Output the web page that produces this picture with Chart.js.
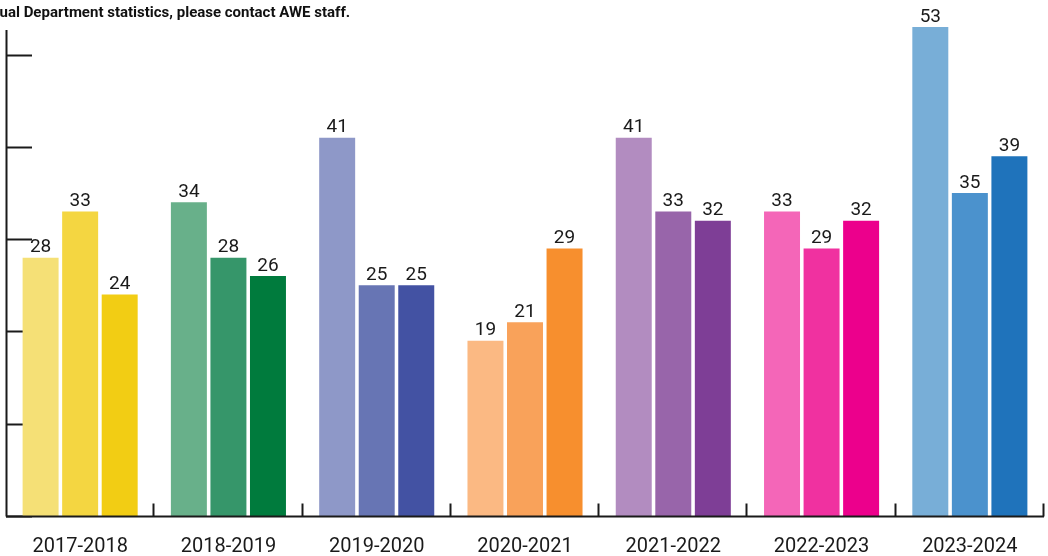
<!DOCTYPE html>
<html>
<head>
<meta charset="utf-8">
<script src="https://cdn.jsdelivr.net/npm/chart.js@4/dist/chart.umd.min.js"></script>
<style>
    html, body { margin: 0; padding: 0; background: #fff; }
    #wrap { width: 1048px; height: 556px; position: relative; }
</style>
</head>
<body>
<div id="wrap"><canvas id="grafico"></canvas></div>
<script>
// dados
const anos = ['2017-2018', '2018-2019', '2019-2020', '2020-2021', '2021-2022', '2022-2023', '2023-2024'];
const serie1 = [28, 34, 41, 19, 41, 33, 53];
const serie2 = [33, 28, 25, 21, 33, 29, 35];
const serie3 = [24, 26, 25, 29, 32, 32, 39];
const marcasY = [0, 10, 20, 30, 40, 50];

// cores por grupo (claro, medio, escuro)
const cores1 = ['#F5E076', '#68B08A', '#8E98C8', '#FBB983', '#B28CC0', '#F466B8', '#78AED7'];
const cores2 = ['#F4D641', '#36966A', '#6775B4', '#F9A25A', '#9865AA', '#F031A0', '#4B92CD'];
const cores3 = ['#F2CD14', '#007B3D', '#4352A3', '#F78F2E', '#7E3E96', '#EC008C', '#1F73BB'];

// o titulo aparece cortado na esquerda
const tituloCortado = 'For individ';
const titulo = 'ual Department statistics, please contact AWE staff.';
const corTexto = '#1a1a1a';

// ticks do eixo y por baixo das barras
const ticksY = {
    id: 'ticksY',
    beforeDatasetsDraw(chart) {
        const ctx = chart.ctx;
        const area = chart.chartArea;
        const y = chart.scales.y;
        ctx.save();
        ctx.strokeStyle = '#1a1a1a';
        ctx.lineWidth = 2;
        marcasY.forEach(function (v) {
            const py = Math.round(y.getPixelForValue(v)) + 0.5;
            ctx.beginPath();
            ctx.moveTo(area.left, py);
            ctx.lineTo(area.left + 26, py);
            ctx.stroke();
        });
        ctx.restore();
    }
};

// eixos, rotulos e titulo por cima
const eixos = {
    id: 'eixos',
    afterDatasetsDraw(chart) {
        const ctx = chart.ctx;
        const area = chart.chartArea;
        const x = chart.scales.x;
        const y = chart.scales.y;
        const base = Math.round(y.getPixelForValue(0)) + 0.5;
        const passo = (area.right - area.left) / anos.length;

        ctx.save();
        ctx.strokeStyle = '#1a1a1a';
        ctx.lineWidth = 2;

        // eixo y
        ctx.beginPath();
        ctx.moveTo(area.left + 0.5, area.top + 3);
        ctx.lineTo(area.left + 0.5, base);
        ctx.stroke();

        // eixo x
        ctx.beginPath();
        ctx.moveTo(area.left, base);
        ctx.lineTo(area.right, base);
        ctx.stroke();

        // separadores dos grupos
        for (let i = 1; i <= anos.length; i++) {
            const px = Math.round(area.left + passo * i) - 0.5;
            ctx.beginPath();
            ctx.moveTo(px, base - 13);
            ctx.lineTo(px, base);
            ctx.stroke();
        }

        // rotulos do eixo x
        ctx.fillStyle = corTexto;
        ctx.font = '20px Roboto';
        ctx.textAlign = 'center';
        ctx.textBaseline = 'alphabetic';
        anos.forEach(function (a, i) {
            ctx.fillText(a, x.getPixelForValue(i), 552);
        });

        // valores sobre as barras
        ctx.font = '19px Roboto';
        chart.data.datasets.forEach(function (ds, d) {
            chart.getDatasetMeta(d).data.forEach(function (barra, i) {
                ctx.fillText(String(ds.data[i]), barra.x, barra.y - 5.5);
            });
        });

        // titulo
        ctx.font = 'bold 15px Roboto';
        ctx.textAlign = 'left';
        ctx.fillStyle = '#111';
        const recuo = ctx.measureText(tituloCortado).width;
        ctx.fillText(tituloCortado + titulo, -recuo - 0.5, 17);

        ctx.restore();
    }
};

const ctx = document.getElementById('grafico');

new Chart(ctx, {
    type: 'bar',
    data: {
        labels: anos,
        datasets: [
            { data: serie1, backgroundColor: cores1, borderWidth: 0 },
            { data: serie2, backgroundColor: cores2, borderWidth: 0 },
            { data: serie3, backgroundColor: cores3, borderWidth: 0 }
        ]
    },
    options: {
        responsive: true,
        maintainAspectRatio: false,
        animation: false,
        devicePixelRatio: 1,
        layout: { padding: { left: 6, right: 4, top: 27, bottom: 40 } },
        datasets: { bar: { categoryPercentage: 0.8, barPercentage: 0.91 } },
        plugins: { legend: { display: false }, tooltip: { enabled: false } },
        scales: {
            x: { display: false },
            y: { display: false, min: 0, max: 53 }
        }
    },
    plugins: [ticksY, eixos]
});
</script>
</body>
</html>
